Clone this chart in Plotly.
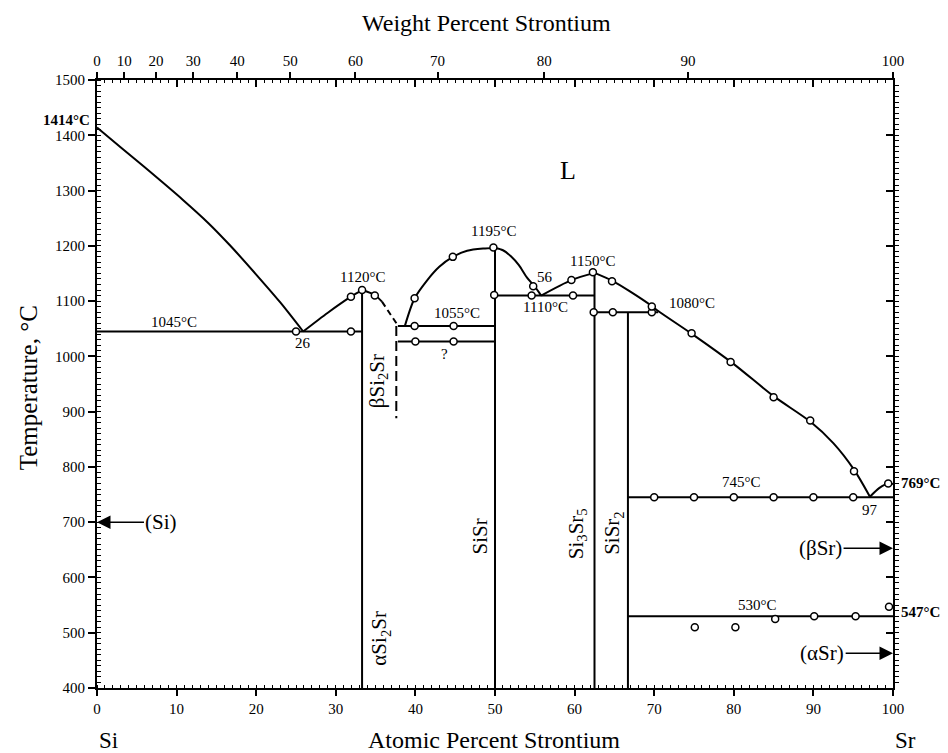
import plotly.graph_objects as go

# ---------------- data (atomic % Sr, temperature °C) ----------------
liq_si_x = [0, 3, 6, 10.8, 14, 16.7, 20, 23, 25.9]
liq_si_y = [1414, 1378, 1342, 1283, 1241, 1201, 1148, 1098, 1045]
liq_a_x = [25.9, 29, 31.9, 33.3]
liq_a_y = [1045, 1079, 1108, 1120]
liq_b_x = [33.3, 34.9, 35.8]
liq_b_y = [1120, 1111, 1099]
liq_b_dash_x = [35.8, 37.7]
liq_b_dash_y = [1099, 1058]
liq_c_x = [38.7, 39.9, 41.5, 43, 44.7, 46.5, 48.5, 50]
liq_c_y = [1056, 1105, 1138, 1162, 1180, 1191, 1195, 1196]
liq_d_x = [50, 51, 52, 53, 54, 55, 55.8]
liq_d_y = [1196, 1192, 1181, 1165, 1143, 1126, 1110]
liq_e_x = [55.8, 59.6, 62.5]
liq_e_y = [1110, 1138, 1151]
liq_f_x = [62.5, 64.7, 67, 69.7, 70.5, 75, 80, 85, 89.6, 92.5, 95.1, 97.1]
liq_f_y = [1151, 1137, 1117, 1091, 1082, 1038, 986, 928, 882, 843, 795, 746]
liq_g_x = [97.1, 98.3, 99.4, 100]
liq_g_y = [746, 762, 770, 769]

# isotherms
iso_T = [1045, 1055, 1027, 1110, 1080, 745, 530]
iso_x0 = [0, 37.8, 37.8, 50, 62.5, 66.7, 66.7]
iso_x1 = [33.3, 50, 50, 62.5, 70.5, 100, 100]

# compounds (vertical lines)
comp_x = [33.3, 50, 62.5, 66.7]
comp_top = [1120, 1196, 1151, 1080]
comp_bottom = 400

# dashed beta-Si2Sr boundary
dash_v_x = [37.6, 37.6]
dash_v_y = [1055, 888]

# experimental data points
pts_x = [25.0, 31.9, 31.9, 33.3, 34.9, 39.9, 44.7, 49.8, 39.9, 44.8, 40.0, 44.8,
         49.9, 54.6, 59.8, 54.8, 59.6, 62.3, 64.7, 62.4, 64.8, 69.7,
         69.7, 74.7, 79.6, 85.0, 89.6, 95.1, 99.4,
         70, 75, 80, 85, 90, 95,
         75.1, 80.2, 85.2, 90.1, 95.3, 99.5]
pts_y = [1045, 1045, 1108, 1120, 1110, 1105, 1180, 1197, 1055, 1055, 1027, 1027,
         1111, 1110, 1110, 1127, 1138, 1152, 1136, 1080, 1080, 1080,
         1090, 1042, 990, 926, 884, 792, 770,
         745, 745, 745, 745, 745, 745,
         510, 510, 525, 530, 530, 547]

# top axis: weight percent Sr
wt_ticks = [0, 10, 20, 30, 40, 50, 60, 70, 80, 90, 100]
M_SR, M_SI = 87.62, 28.0855


def wt_to_at(w):
    if w >= 100:
        return 100.0
    a = w / M_SR
    b = (100 - w) / M_SI
    return 100 * a / (a + b)


wt_pos = [wt_to_at(w) for w in wt_ticks]

# text labels: (text, x, y, size)
labels = [
    ("1045°C", 9.7, 1063, 15),
    ("26", 25.9, 1024, 15),
    ("1120°C", 33.3, 1143, 15),
    ("1195°C", 49.8, 1226, 15),
    ("1055°C", 45.2, 1078, 15),
    ("?", 43.7, 1005, 15),
    ("56", 56.3, 1144, 15),
    ("1110°C", 56.4, 1090, 15),
    ("1150°C", 62.2, 1172, 15),
    ("1080°C", 74.7, 1096, 15),
    ("745°C", 81.0, 773, 15),
    ("97", 97.1, 722, 15),
    ("530°C", 83.0, 550, 15),
    ("L", 59.2, 1337, 26),
]
phase_labels = [
    ("βSi<sub>2</sub>Sr", 35.3, 955),
    ("αSi<sub>2</sub>Sr", 35.6, 490),
    ("SiSr", 48.1, 674),
    ("Si<sub>3</sub>Sr<sub>5</sub>", 60.3, 680),
    ("SiSr<sub>2</sub>", 64.9, 680),
]

FONT = "Liberation Serif, Times New Roman, serif"
LW = 2

fig = go.Figure()


def line(x, y, dash="solid", spline=False):
    fig.add_trace(go.Scatter(
        x=x, y=y, mode="lines",
        line=dict(color="black", width=LW, dash=dash,
                  shape="spline" if spline else "linear", smoothing=0.8),
        showlegend=False, hoverinfo="skip"))


line(liq_si_x, liq_si_y, spline=True)
line(liq_a_x, liq_a_y, spline=True)
line(liq_b_x, liq_b_y, spline=True)
line(liq_b_dash_x, liq_b_dash_y, dash="6px,4px")
line(liq_c_x, liq_c_y, spline=True)
line(liq_d_x, liq_d_y, spline=True)
line(liq_e_x, liq_e_y, spline=True)
line(liq_f_x, liq_f_y, spline=True)
line(liq_g_x, liq_g_y, spline=True)

ix, iy = [], []
for T, a, b in zip(iso_T, iso_x0, iso_x1):
    ix += [a, b, None]
    iy += [T, T, None]
line(ix, iy)

cx, cy = [], []
for xv, top in zip(comp_x, comp_top):
    cx += [xv, xv, None]
    cy += [top, comp_bottom, None]
line(cx, cy)

line(dash_v_x, dash_v_y, dash="10px,5px")

fig.add_trace(go.Scatter(
    x=pts_x, y=pts_y, mode="markers",
    marker=dict(symbol="circle", size=7, color="white",
                line=dict(color="black", width=1.5)),
    showlegend=False, hoverinfo="skip"))

# dummy traces to activate extra axes
fig.add_trace(go.Scatter(x=[None], y=[None], xaxis="x2", yaxis="y", showlegend=False))
fig.add_trace(go.Scatter(x=[None], y=[None], xaxis="x3", yaxis="y", showlegend=False))
fig.add_trace(go.Scatter(x=[None], y=[None], xaxis="x", yaxis="y2", showlegend=False))

ann = []
for t, x, y, s in labels:
    ann.append(dict(text=t, x=x, y=y, xref="x", yref="y", showarrow=False,
                    font=dict(family=FONT, size=s, color="black")))
for t, x, y in phase_labels:
    ann.append(dict(text=t, x=x, y=y, xref="x", yref="y", showarrow=False,
                    textangle=-90, font=dict(family=FONT, size=21, color="black")))

# bold labels at axes
ann.append(dict(text="<b>1414°C</b>", x=0, y=1427, xref="paper", yref="y",
                xanchor="right", xshift=-5, showarrow=False,
                font=dict(family=FONT, size=15, color="black")))
ann.append(dict(text="<b>769°C</b>", x=1, y=771, xref="paper", yref="y",
                xanchor="left", xshift=6, showarrow=False,
                font=dict(family=FONT, size=15, color="black")))
ann.append(dict(text="<b>547°C</b>", x=1, y=538, xref="paper", yref="y",
                xanchor="left", xshift=6, showarrow=False,
                font=dict(family=FONT, size=15, color="black")))

# phase arrows
arrow_common = dict(xref="x", yref="y", axref="x", ayref="y", showarrow=True,
                    arrowhead=2, arrowsize=1.8, arrowwidth=1.5, arrowcolor="black",
                    font=dict(family=FONT, size=21, color="black"))
ann.append(dict(text="(Si)", x=0, y=700, ax=8.1, ay=700, **arrow_common))
ann.append(dict(text="(βSr)", x=100, y=653, ax=90.9, ay=653, **arrow_common))
ann.append(dict(text="(αSr)", x=100, y=463, ax=91.1, ay=463, **arrow_common))

# titles
title_font = dict(family=FONT, size=24, color="black")
ann.append(dict(text="Weight Percent Strontium", x=0.489, y=1, xref="paper", yref="paper",
                xanchor="center", yanchor="middle", yshift=57, showarrow=False,
                font=title_font))
ann.append(dict(text="Atomic Percent Strontium", x=0.499, y=0, xref="paper", yref="paper",
                xanchor="center", yanchor="middle", yshift=-52, showarrow=False,
                font=title_font))
ann.append(dict(text="Si", x=0.015, y=0, xref="paper", yref="paper",
                xanchor="center", yanchor="middle", yshift=-52, showarrow=False,
                font=dict(family=FONT, size=23, color="black")))
ann.append(dict(text="Sr", x=1.016, y=0, xref="paper", yref="paper",
                xanchor="center", yanchor="middle", yshift=-52, showarrow=False,
                font=dict(family=FONT, size=23, color="black")))
ann.append(dict(text="Temperature, °C", x=0, y=0.493, xref="paper", yref="paper",
                xanchor="center", yanchor="middle", xshift=-69, textangle=-90,
                showarrow=False, font=dict(family=FONT, size=25, color="black")))

tickfont = dict(family=FONT, size=15, color="black")
# the page body adds an 8 px offset, so the figure is 8 px smaller and margins shifted
fig.update_layout(
    width=940, height=745,
    margin=dict(l=89, r=55, t=72, b=65, autoexpand=False),
    paper_bgcolor="white", plot_bgcolor="white",
    showlegend=False,
    annotations=ann,
    xaxis=dict(range=[0, 100], tickvals=list(range(0, 101, 10)), ticks="outside",
               ticklen=6, tickwidth=1.5, tickcolor="black", showline=True,
               linewidth=2, linecolor="black", showgrid=False, zeroline=False,
               tickfont=tickfont,
               minor=dict(dtick=1, ticks="inside", ticklen=3, tickwidth=1,
                          tickcolor="black", showgrid=False)),
    xaxis2=dict(range=[0, 100], overlaying="x", side="top", anchor="y",
                tickvals=wt_pos, ticktext=[str(w) for w in wt_ticks],
                ticks="outside", ticklen=6, tickwidth=1.5, tickcolor="black",
                showline=True, linewidth=2, linecolor="black", showgrid=False,
                zeroline=False, tickfont=tickfont),
    xaxis3=dict(range=[0, 100], overlaying="x", side="top", anchor="y",
                tickvals=list(range(0, 101, 10)), ticks="inside", ticklen=7,
                tickwidth=1.5, tickcolor="black", showticklabels=False,
                showline=False, showgrid=False, zeroline=False,
                minor=dict(dtick=1, ticks="inside", ticklen=3, tickwidth=1,
                           tickcolor="black", showgrid=False)),
    yaxis=dict(range=[400, 1500], dtick=100, ticks="outside", ticklen=7,
               tickwidth=1.5, tickcolor="black", showline=True, linewidth=2,
               linecolor="black", showgrid=False, zeroline=False, tickfont=tickfont,
               minor=dict(dtick=10, ticks="inside", ticklen=4, tickwidth=1,
                          tickcolor="black", showgrid=False)),
    yaxis2=dict(range=[400, 1500], overlaying="y", side="right", anchor="x",
                dtick=100, ticks="inside", ticklen=7, tickwidth=1.5,
                tickcolor="black", showticklabels=False, showline=True,
                linewidth=2, linecolor="black", showgrid=False, zeroline=False,
                minor=dict(dtick=10, ticks="outside", ticklen=4, tickwidth=1,
                           tickcolor="black", showgrid=False)),
)

fig.write_html("out.html")
